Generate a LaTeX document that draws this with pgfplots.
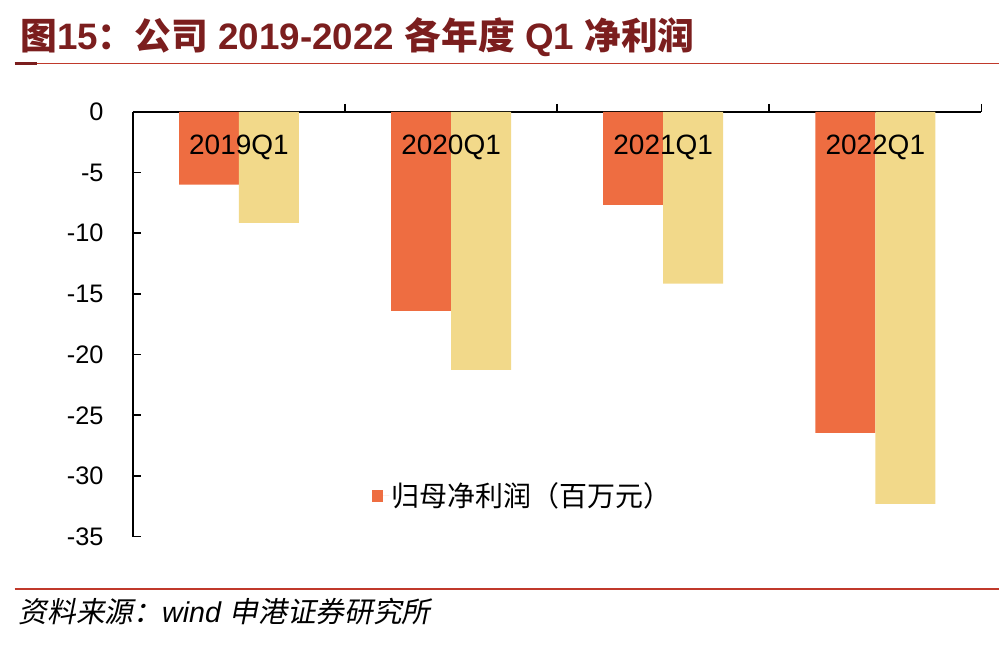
\documentclass[border=0pt]{standalone}
\usepackage{pgfplots}
\pgfplotsset{compat=1.18}
\usepackage{fontspec}
\setmainfont{Liberation Sans}
\newfontfamily\cjk{Noto Sans CJK SC}
\newfontfamily\cjkit[FakeSlant=0.2]{Noto Sans CJK SC}
\definecolor{barA}{HTML}{EE6D41}
\definecolor{barB}{HTML}{F2D98A}
\definecolor{ttl}{HTML}{7B1E1E}
\definecolor{rline}{HTML}{C0392B}
\begin{document}
\begin{tikzpicture}
\path (0,0) rectangle (750pt,-484.5pt);
\node[anchor=west, inner sep=0pt, text=ttl, font=\fontsize{27.6}{32}\selectfont\bfseries] at (15pt,-27.75pt)
  {{\cjk\bfseries 图}15{\cjk\bfseries ：公司} 2019-2022 {\cjk\bfseries 各年度} Q1 {\cjk\bfseries 净利润}};
\draw[rline, line width=1pt] (11pt,-47.5pt) -- (750pt,-47.5pt);
\draw[ttl, line width=2pt] (11pt,-47.5pt) -- (28pt,-47.5pt);
\draw[rline, line width=1pt] (11pt,-442pt) -- (750pt,-442pt);
\node[anchor=west, inner sep=0pt, font=\fontsize{21.5}{25}\selectfont] at (14pt,-459pt)
  {{\cjkit 资料来源：}\textit{wind} {\cjkit 申港证券研究所}};
\begin{axis}[
  at={(99.75pt,-84pt)}, anchor=north west,
  scale only axis, width=636.75pt, height=318.75pt,
  xmin=-0.5, xmax=3.5, ymin=-35, ymax=0,
  axis x line=top, axis y line=left,
  axis line style={-, line width=1.2pt},
  xtick={0.5,1.5,2.5,3.5}, xticklabels={},
  ytick={-35,-30,...,0},
  tick style={black, line width=1.2pt},
  major tick length=6pt, tick align=inside,
  xtick style={yshift=6pt},
  /pgf/number format/assume math mode=true,
  yticklabel style={font=\fontsize{19}{23}\selectfont, xshift=-18.5pt},
  legend style={at={(0.2815,0.096)}, anchor=west, draw=none, fill=none,
    font=\cjk\fontsize{21}{25}\selectfont, inner sep=0pt},
  legend image code/.code={\path (0pt,0pt) -- (13pt,0pt);\fill[barA] (0pt,-4.5pt) rectangle (8.5pt,4.5pt);},
]
\addplot[ybar, bar width=45pt, bar shift=-22.5pt, fill=barA, draw=none]
  coordinates {(0,-6.0) (1,-16.4) (2,-7.65) (3,-26.45)};
\addlegendentry{归母净利润（百万元）}
\addplot[ybar, bar width=45pt, bar shift=22.5pt, fill=barB, draw=none, forget plot]
  coordinates {(0,-9.15) (1,-21.25) (2,-14.15) (3,-32.3)};
\node[font=\fontsize{21}{25}\selectfont] at (axis cs:0,-2.88) {2019Q1};
\node[font=\fontsize{21}{25}\selectfont] at (axis cs:1,-2.88) {2020Q1};
\node[font=\fontsize{21}{25}\selectfont] at (axis cs:2,-2.88) {2021Q1};
\node[font=\fontsize{21}{25}\selectfont] at (axis cs:3,-2.88) {2022Q1};
\end{axis}
\end{tikzpicture}
\end{document}
